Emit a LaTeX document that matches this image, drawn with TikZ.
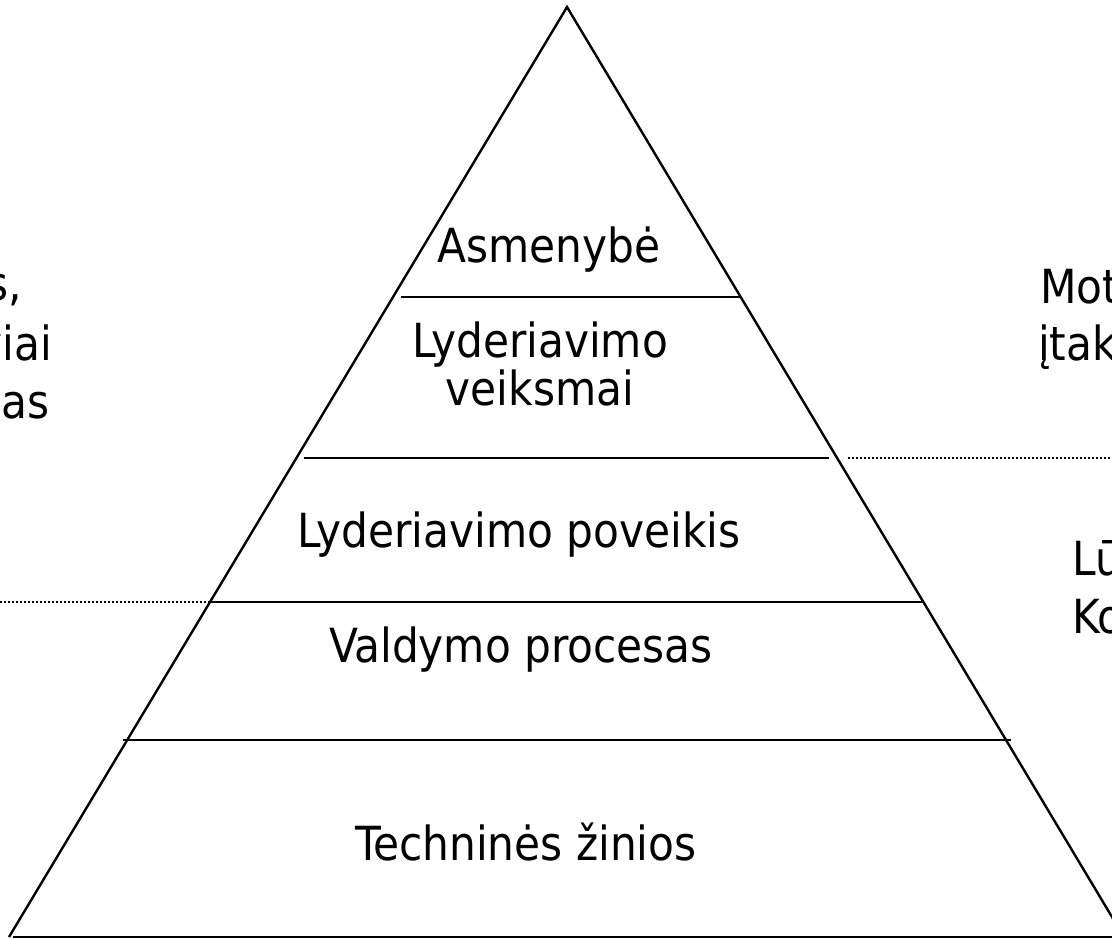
\documentclass[tikz,border=0pt]{standalone}
\usepackage{fontspec}
\setmainfont{DejaVu Sans Condensed}
\begin{document}
\begin{tikzpicture}[x=1pt,y=-1pt,
  edge/.style={line width=2.4pt,line join=miter},
  sep/.style={line width=2.4pt},
  dotsep/.style={line width=1.6pt,dash pattern=on 2pt off 2pt},
  lbl/.style={inner sep=0pt,font=\fontsize{47}{58}\selectfont,anchor=base},
  side/.style={inner sep=0pt,font=\fontsize{47}{58}\selectfont}]
\useasboundingbox (0,0) rectangle (1112,939);
% triangle corners
\coordinate (apex) at (567,7);
\coordinate (bl) at (9,937);
\coordinate (br) at (1124,937);
\draw[edge] (bl) -- (apex) -- (br);
\draw[edge] (13,937) coordinate (b1) -- (1112,937) coordinate (b2);
% separators
\coordinate (s1a) at (401,297); \coordinate (s1b) at (741,297);
\coordinate (s2a) at (304,458); \coordinate (s2b) at (829,458);
\coordinate (s3a) at (210,602); \coordinate (s3b) at (924,602);
\coordinate (s4a) at (123,740); \coordinate (s4b) at (1011,740);
\draw[sep] (s1a) -- (s1b);
\draw[sep] (s2a) -- (s2b);
\draw[sep] (s3a) -- (s3b);
\draw[sep] (s4a) -- (s4b);
% dotted
\coordinate (d1a) at (848,458); \coordinate (d1b) at (1112,458);
\coordinate (d2a) at (0,602);
\draw[dotsep] (d1a) -- (d1b);
\draw[dotsep] (d2a) -- (s3a);
% texts in triangle
\node[lbl] (t1) at (549,262) {Asmenybė};
\node[lbl] (t2a) at (540,357) {Lyderiavimo};
\node[lbl] (t2b) at (540,405) {veiksmai};
\node[lbl] (t3) at (519,547) {Lyderiavimo poveikis};
\node[lbl] (t4) at (521,662) {Valdymo procesas};
\node[lbl] (t5) at (526,860) {Techninės žinios};
% cropped side texts
\node[side,anchor=base east] (l1) at (22,300) {s,};
\node[side,anchor=base east] (l2) at (52,360) {viai};
\node[side,anchor=base east] (l3) at (50,418) {nas};
\node[side,anchor=base west] (r1) at (1040,303) {Mot};
\node[side,anchor=base west] (r2) at (1038,360) {įtak};
\node[side,anchor=base west] (r3) at (1072,575) {Lū};
\node[side,anchor=base west] (r4) at (1072,633) {Ko};
\end{tikzpicture}
\end{document}
